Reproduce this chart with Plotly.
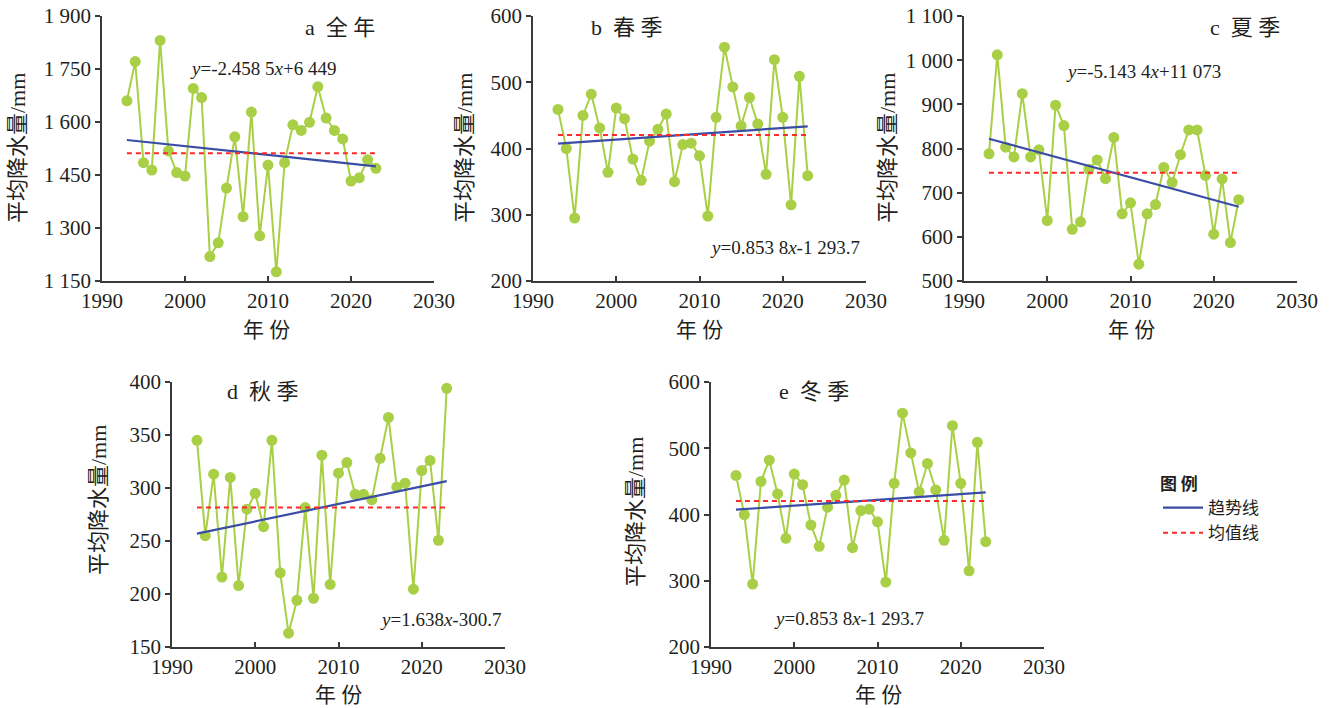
import numpy as np
import plotly.graph_objects as go

years = list(range(1993, 2024))

annual = [1660, 1771, 1485, 1464, 1831, 1518, 1457, 1447, 1695, 1669,
          1219, 1258, 1413, 1558, 1332, 1628, 1278, 1478, 1176, 1485,
          1592, 1576, 1599, 1700, 1611, 1576, 1552, 1433, 1442, 1493, 1469]
spring = [459, 400, 295, 450, 482, 431, 364, 461, 445, 384,
          352, 411, 429, 452, 350, 406, 408, 389, 298, 447,
          553, 493, 434, 477, 437, 361, 534, 447, 315, 509, 359]
summer = [788, 1012, 803, 781, 924, 781, 797, 637, 898, 852,
          617, 634, 753, 774, 732, 825, 652, 677, 538, 652,
          673, 757, 723, 786, 842, 842, 739, 606, 731, 587, 684]
autumn = [345, 255, 313, 216, 310, 208, 280, 295, 263.5, 345,
          220, 163, 194, 281.5, 196, 331, 209, 314, 324, 294,
          294, 289, 328, 366.6, 301, 304.5, 204.5, 316.5, 326, 250.6, 394]
winter = [459, 400, 295, 450, 482, 431, 364, 461, 445, 384,
          352, 411, 429, 452, 350, 406, 408, 389, 298, 447,
          553, 493, 434, 477, 437, 361, 534, 447, 315, 509, 359]

panel_labels = ["a\u00a0\u00a0全\u00a0年", "b\u00a0\u00a0春\u00a0季", "c\u00a0\u00a0夏\u00a0季",
                "d\u00a0\u00a0秋\u00a0季", "e\u00a0\u00a0冬\u00a0季"]
equations = ["<i>y</i>=-2.458 5<i>x</i>+6 449", "<i>y</i>=0.853 8<i>x</i>-1 293.7",
             "<i>y</i>=-5.143 4<i>x</i>+11 073", "<i>y</i>=1.638<i>x</i>-300.7",
             "<i>y</i>=0.853 8<i>x</i>-1 293.7"]
y_ranges = [[1150, 1900], [200, 600], [500, 1100], [150, 400], [200, 600]]
y_dticks = [150, 100, 100, 50, 100]
y_title = "平均降水量/mm"
x_title = "年\u00a0份"
legend_title = "图\u00a0例"
trend_name = "趋势线"
mean_name = "均值线"

series = [annual, spring, summer, autumn, winter]

W, H = 1335, 708
def px(x):
    return x / W
def py(y):
    return 1 - y / H

# plot areas in pixels: (left, right, top, bottom)
areas = [(102, 434, 16, 281), (533, 866, 16, 281), (964, 1297, 16, 281),
         (172, 505, 382, 647), (711, 1044, 382, 647)]

SERIF = "Liberation Serif, Noto Sans CJK SC"
GREEN = "#A8CF45"
BLUE = "#3A4DA6"
RED = "#FF2B2B"
AXC = "#3a3a3a"
TXT = "#231F20"

fig = go.Figure()
layout = {}
annotations = []

for i, vals in enumerate(series):
    sfx = "" if i == 0 else str(i + 1)
    xa, ya = "x" + sfx, "y" + sfx
    yrs = np.array(years, dtype=float)
    v = np.array(vals, dtype=float)
    fig.add_trace(go.Scatter(x=years, y=vals, mode="lines+markers",
                             line=dict(color=GREEN, width=2),
                             marker=dict(color=GREEN, size=11),
                             xaxis=xa, yaxis=ya, showlegend=False, hoverinfo="x+y"))
    k, b = np.polyfit(yrs, v, 1)
    tx = [years[0], years[-1]]
    fig.add_trace(go.Scatter(x=tx, y=[k * t + b for t in tx], mode="lines",
                             line=dict(color=BLUE, width=2.2),
                             xaxis=xa, yaxis=ya, name=trend_name,
                             showlegend=(i == 0), legendrank=1))
    m = float(v.mean())
    fig.add_trace(go.Scatter(x=tx, y=[m, m], mode="lines",
                             line=dict(color=RED, width=2, dash="5px,4px"),
                             xaxis=xa, yaxis=ya, name=mean_name,
                             showlegend=(i == 0), legendrank=2))

    l, r, t, btm = areas[i]
    layout["xaxis" + sfx] = dict(domain=[px(l), px(r)], anchor=ya, range=[1990, 2030],
                                 dtick=10, tick0=1990, showgrid=False, zeroline=False,
                                 automargin=False,
                                 showline=True, linecolor=AXC, linewidth=1.5,
                                 ticks="inside", ticklen=5, tickcolor=AXC, tickwidth=1.5,
                                 tickfont=dict(family=SERIF, size=21, color=TXT))
    layout["yaxis" + sfx] = dict(domain=[py(btm), py(t)], anchor=xa, range=y_ranges[i],
                                 dtick=y_dticks[i], tick0=y_ranges[i][0],
                                 showgrid=False, zeroline=False, automargin=False,
                                 showline=True, linecolor=AXC, linewidth=1.5,
                                 ticks="outside", ticklen=5, tickcolor=AXC, tickwidth=1.5,
                                 tickformat=",",
                                 tickfont=dict(family=SERIF, size=21, color=TXT))

label_pos = [(303, 28), (589, 28), (1208, 28), (225, 391), (777, 391)]
eq_pos = [(188, 68, "left"), (862, 247, "right"), (1064, 71, "left"),
          (503, 619, "right"), (772, 618, "left")]
ytitle_pos = [(18, 148), (465, 148), (888, 148), (98, 500), (635, 512)]
xtitle_pos = [(266, 330), (700, 330), (1131, 330), (338, 695), (878, 695)]

for i in range(5):
    x0, y0 = label_pos[i]
    annotations.append(dict(x=px(x0), y=py(y0), xref="paper", yref="paper",
                            text=panel_labels[i], showarrow=False,
                            xanchor="left", yanchor="middle",
                            font=dict(family=SERIF, size=22, color=TXT)))
    ex, ey, anc = eq_pos[i]
    annotations.append(dict(x=px(ex), y=py(ey), xref="paper", yref="paper",
                            text=equations[i], showarrow=False,
                            xanchor=anc, yanchor="middle",
                            font=dict(family=SERIF, size=19, color=TXT)))
    tx0, ty0 = ytitle_pos[i]
    annotations.append(dict(x=px(tx0), y=py(ty0), xref="paper", yref="paper",
                            text=y_title, showarrow=False, textangle=-90,
                            xanchor="center", yanchor="middle",
                            font=dict(family=SERIF, size=22, color=TXT)))
    xx0, xy0 = xtitle_pos[i]
    annotations.append(dict(x=px(xx0), y=py(xy0), xref="paper", yref="paper",
                            text=x_title, showarrow=False,
                            xanchor="center", yanchor="middle",
                            font=dict(family=SERIF, size=21, color=TXT)))

fig.update_layout(
    width=W, height=H,
    margin=dict(l=0, r=0, t=0, b=0, autoexpand=False),
    paper_bgcolor="white", plot_bgcolor="white",
    separators=". ",
    annotations=annotations,
    showlegend=True,
    legend=dict(x=px(1158), y=py(468), xanchor="left", yanchor="top",
                title=dict(text="<b>" + legend_title + "</b>",
                           font=dict(family="Noto Sans CJK SC", size=17, color=TXT)),
                font=dict(family="Noto Sans CJK SC", size=17, color=TXT),
                bgcolor="rgba(0,0,0,0)", itemwidth=40, tracegroupgap=0),
    **layout,
)

fig.write_html("out.html", config={"displayModeBar": False},
               post_script="document.body.style.margin='0';")
